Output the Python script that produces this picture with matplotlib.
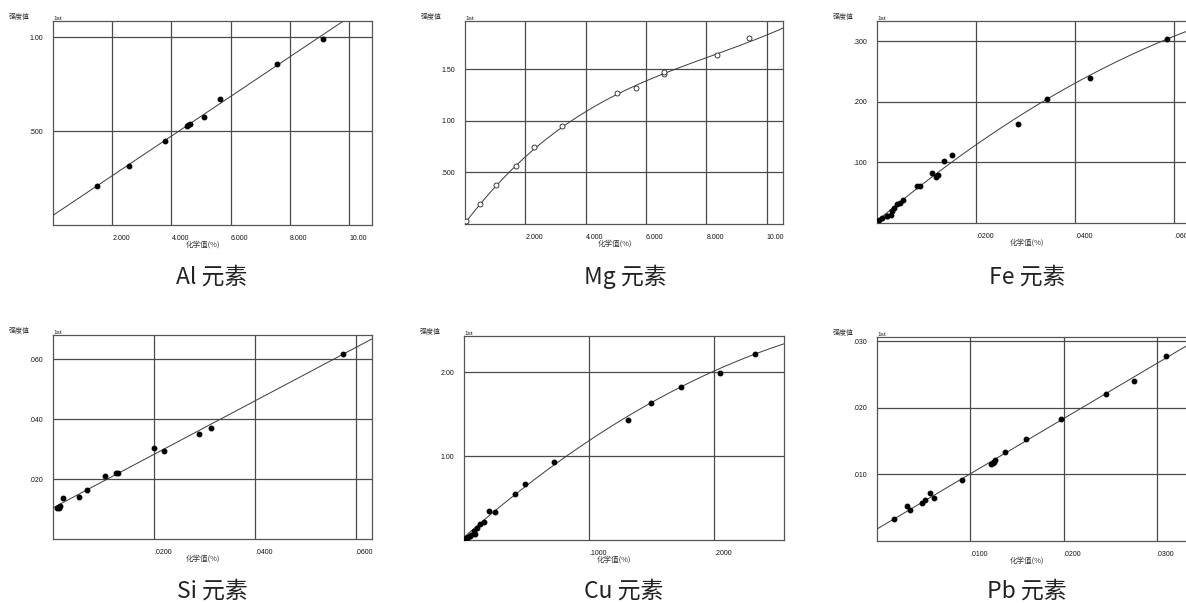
import numpy as np
import matplotlib
matplotlib.use("Agg")
import matplotlib.pyplot as plt
import matplotlib.transforms as mtrans

plt.rcParams['font.family'] = ['Liberation Sans', 'Noto Sans CJK SC', 'DejaVu Sans']
cjk = ['Noto Sans CJK SC', 'DejaVu Sans']

W, H = 1186, 603

# ---- data ----
al_x = [1.49, 2.58, 3.77, 4.53, 4.56, 4.61, 5.09, 5.65, 7.56, 9.12]
al_y = [0.206, 0.313, 0.445, 0.530, 0.534, 0.536, 0.573, 0.671, 0.858, 0.989]
al_curve_x = [0.0, 8.98]
al_curve_y = [0.0516, 1.0]

mg_x = [0.02, 0.49, 1.02, 1.69, 2.30, 3.21, 5.03, 5.66, 6.59, 6.59, 8.36, 9.42]
mg_y = [0.03, 0.19, 0.374, 0.558, 0.745, 0.948, 1.268, 1.316, 1.452, 1.468, 1.639, 1.797]
mg_curve_x = [0.0, 0.49, 1.02, 2.30, 3.21, 3.57, 5.03, 5.66, 6.59, 6.92, 8.0, 10.0, 10.54]
mg_curve_y = [0.0, 0.19, 0.374, 0.726, 0.948, 1.0, 1.25, 1.33, 1.45, 1.5, 1.616, 1.842, 1.884]

fe_x = [0.00047, 0.00094, 0.0020, 0.0021, 0.0028, 0.0031, 0.0034, 0.0040, 0.0046, 0.0052,
        0.0081, 0.0086, 0.0111, 0.0119, 0.0123, 0.0135, 0.0152, 0.0285, 0.0343, 0.0430, 0.0585]
fe_y = [0.0047, 0.0079, 0.0112, 0.0120, 0.0140, 0.0205, 0.0250, 0.0310, 0.0330, 0.0386,
        0.0605, 0.0605, 0.0825, 0.0759, 0.0800, 0.1020, 0.1126, 0.1640, 0.2040, 0.2400, 0.3030]
fe_curve_x = [0.0, 0.005, 0.010, 0.0145, 0.020, 0.0343, 0.040, 0.0585, 0.0625]
fe_curve_y = [0.0014, 0.036, 0.070, 0.100, 0.131, 0.204, 0.227, 0.303, 0.318]

si_x = [0.00086, 0.0011, 0.0012, 0.0013, 0.0019, 0.0051, 0.0068, 0.0103, 0.0125, 0.0128,
        0.0200, 0.0219, 0.0290, 0.0314, 0.0574]
si_y = [0.0103, 0.0102, 0.0108, 0.0109, 0.0138, 0.0141, 0.0162, 0.0210, 0.0221, 0.0219,
        0.0305, 0.0293, 0.0350, 0.0370, 0.0617]
si_curve_x = [0.0, 0.0632]
si_curve_y = [0.0104, 0.0668]

cu_x = [0.0005, 0.0013, 0.0024, 0.0035, 0.0045, 0.0056, 0.0078, 0.0088, 0.0102, 0.0128,
        0.0158, 0.0203, 0.0249, 0.0412, 0.0492, 0.0717, 0.131, 0.150, 0.174, 0.205, 0.2326]
cu_y = [0.012, 0.020, 0.028, 0.036, 0.052, 0.063, 0.103, 0.075, 0.143, 0.190,
        0.210, 0.341, 0.337, 0.548, 0.671, 0.925, 1.433, 1.631, 1.817, 1.992, 2.210]
cu_curve_x = [0.0, 0.010, 0.025, 0.0412, 0.050, 0.079, 0.100, 0.131, 0.150, 0.174, 0.1995, 0.2326, 0.2561]
cu_curve_y = [0.0, 0.15, 0.36, 0.56, 0.68, 1.0, 1.19, 1.44, 1.62, 1.82, 2.0, 2.21, 2.357]

pb_x = [0.00182, 0.00325, 0.00357, 0.00479, 0.00518, 0.00568, 0.00607, 0.00907, 0.01225,
        0.0124, 0.01254, 0.01264, 0.01368, 0.01593, 0.01975, 0.0245, 0.02757, 0.0310]
pb_y = [0.00325, 0.0052, 0.0046, 0.00575, 0.00615, 0.0072, 0.0064, 0.0092, 0.01155,
        0.01165, 0.0119, 0.0121, 0.0133, 0.01525, 0.0183, 0.0221, 0.0241, 0.02785]
pb_curve_x = [0.0, 0.0331]
pb_curve_y = [0.0018, 0.02925]

titles = ['Al 元素', 'Mg 元素', 'Fe 元素', 'Si 元素', 'Cu 元素', 'Pb 元素']

# panel setup: (x, y, curve x, curve y, fit degree, open markers, xlim, ylim, xticks, xlabels, yticks, ylabels, pixel box l r t b)
panels = [
    (al_x, al_y, al_curve_x, al_curve_y, 1, False, 10.77, 1.087,
     [2, 4, 6, 8, 10], ['2.000', '4.000', '6.000', '8.000', '10.00'],
     [0.5, 1.0], ['.500', '1.00'], (53, 372, 21, 225)),
    (mg_x, mg_y, mg_curve_x, mg_curve_y, 3, True, 10.54, 1.965,
     [2, 4, 6, 8, 10], ['2.000', '4.000', '6.000', '8.000', '10.00'],
     [0.5, 1.0, 1.5], ['.500', '1.00', '1.50'], (465, 783, 21, 224)),
    (fe_x, fe_y, fe_curve_x, fe_curve_y, 2, False, 0.0644, 0.3334,
     [0.02, 0.04, 0.06], ['.0200', '.0400', '.060'],
     [0.1, 0.2, 0.3], ['.100', '.200', '.300'], (877, 1196, 21, 223)),
    (si_x, si_y, si_curve_x, si_curve_y, 1, False, 0.0632, 0.0681,
     [0.02, 0.04, 0.06], ['.0200', '.0400', '.0600'],
     [0.02, 0.04, 0.06], ['.020', '.040', '.060'], (53, 372, 335, 539)),
    (cu_x, cu_y, cu_curve_x, cu_curve_y, 2, False, 0.2561, 2.43,
     [0.1, 0.2], ['.1000', '.2000'],
     [1.0, 2.0], ['1.00', '2.00'], (464, 784, 336, 540)),
    (pb_x, pb_y, pb_curve_x, pb_curve_y, 1, False, 0.0342, 0.03065,
     [0.01, 0.02, 0.03], ['.0100', '.0200', '.0300'],
     [0.01, 0.02, 0.03], ['.010', '.020', '.030'], (877, 1196, 337, 541)),
]
caption_pos = [(212, 277), (625, 277), (1027, 277), (212, 591), (624, 591), (1027, 591)]

fig = plt.figure(figsize=(W / 100, H / 100), dpi=100)
fig.patch.set_facecolor('white')
down = mtrans.ScaledTranslation(0, -4 / 100, fig.dpi_scale_trans)

for i, p in enumerate(panels):
    x, y, cx, cy, deg, hollow, xmax, ymax, xt, xtl, yt, ytl, box = p
    l, r, t, b = box
    ax = fig.add_axes([l / W, 1 - b / H, (r - l) / W, (b - t) / H])
    ax.set_xlim(0, xmax)
    ax.set_ylim(0, ymax)

    # calibration curve
    coef = np.polyfit(cx, cy, deg)
    xs = np.linspace(0, xmax, 200)
    ax.plot(xs, np.polyval(coef, xs), color='#3a3a3a', lw=0.7, zorder=3)

    if hollow:
        ax.plot(x, y, 'o', ms=3.6, mfc='white', mec='#222222', mew=0.6, zorder=4)
    else:
        ax.plot(x, y, 'o', ms=3.2, color='black', zorder=4)

    ax.set_xticks(xt)
    ax.set_xticklabels(xtl, fontsize=5, ha='left', color='#111111')
    ax.set_yticks(yt)
    ax.set_yticklabels(ytl, fontsize=5, color='#111111')
    for lab in ax.get_yticklabels():
        lab.set_transform(lab.get_transform() + down)
    ax.tick_params(length=0, pad=7)
    ax.grid(True, color='#4a4a4a', lw=0.9)
    ax.set_axisbelow(True)
    for s in ax.spines.values():
        s.set_color('#555555')
        s.set_linewidth(0.9)

    ax.text(-44 / (r - l), 1.0 + 4 / (b - t), '强度值', transform=ax.transAxes,
            fontsize=5, family=cjk, color='#333333', va='center', ha='left')
    ax.text(0.0, 1.0, '1st', transform=ax.transAxes, fontsize=4.6,
            color='#222222', va='bottom', ha='left')
    ax.text(150 / (r - l), -19.5 / (b - t), '化学值(%)', transform=ax.transAxes,
            fontsize=5.4, family=cjk, color='#333333', va='center', ha='center')

    cxp, cyp = caption_pos[i]
    fig.text(cxp / W, 1 - cyp / H, titles[i], fontsize=16.5, family=cjk,
             color='#222222', ha='center', va='center', fontweight='light')

fig.savefig('out.png', dpi=100, facecolor='white')
